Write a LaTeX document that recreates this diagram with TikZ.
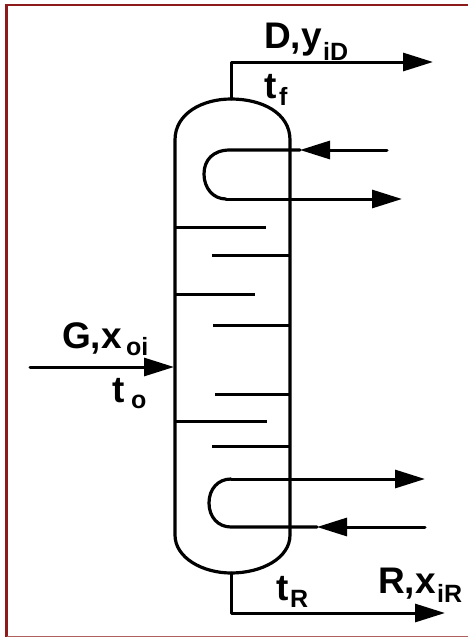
\documentclass[tikz,border=0pt]{standalone}
\usepackage{fontspec}
\setmainfont{Liberation Sans}
\usetikzlibrary{arrows.meta}
\definecolor{frame}{HTML}{8E1B1B}
\tikzset{
  x=1pt,y=-1pt,
  pipe/.style={line width=3.2pt,black,line join=round,line cap=round},
  tray/.style={line width=3pt,black},
  flow/.style={line width=3pt,black,line join=round,line cap=round,-{Triangle[length=30pt,width=18pt]}},
  lbl/.style={anchor=base west,inner sep=0pt,font=\bfseries\fontsize{37}{40}\selectfont},
  sub/.style={anchor=base west,inner sep=0pt,font=\bfseries\fontsize{25}{27}\selectfont}
}
\begin{document}
\begin{tikzpicture}
\useasboundingbox (0,0) rectangle (468,637);
\fill[white] (0,0) rectangle (468,637);
\draw[frame,line width=2.6pt] (6.5,637) -- (6.5,5) -- (468,5);
\draw[frame!70,line width=1pt] (6.5,636.5) -- (468,636.5);
% column
\draw[pipe] (175,140) .. controls (175,113) and (203,99) .. (231,99) .. controls (262,99) and (290,113) .. (290,140)
  -- (290,535) .. controls (290,558) and (262,573) .. (231,573) .. controls (203,573) and (175,558) .. (175,535) -- cycle;
\coordinate (colTop) at (231,99);
\coordinate (colBot) at (231,573);
% overhead and bottoms
\coordinate (dCorner) at (231,62);
\coordinate (dEnd) at (433,62);
\draw[flow] (colTop) -- (dCorner) -- (dEnd);
\coordinate (rCorner) at (231,613);
\coordinate (rEnd) at (445,613);
\draw[flow] (colBot) -- (rCorner) -- (rEnd);
% upper coil
\coordinate (uIn) at (387,150);
\coordinate (uTip) at (300,150);
\coordinate (uB) at (230,150);
\coordinate (uC) at (226,199);
\coordinate (uOut) at (402,199);
\draw[flow] (uIn) -- (uTip);
\draw[pipe] (uTip) -- (uB) .. controls (213,150) and (204,160) .. (204,174) .. controls (204,188) and (213,199) .. (uC);
\draw[flow] (uC) -- (uOut);
% lower coil
\coordinate (lB) at (231,479);
\coordinate (lOut) at (425,479);
\coordinate (lIn) at (425,527);
\coordinate (lTip) at (317,527);
\coordinate (lC) at (231,527);
\draw[flow] (lB) -- (lOut);
\draw[flow] (lIn) -- (lTip);
\draw[pipe] (lTip) -- (lC) .. controls (218,527) and (209,517) .. (209,503) .. controls (209,489) and (218,479) .. (lB);
% trays
\foreach \y/\e in {227/266,294/255,421/267}
  \draw[tray] (175,\y) -- (\e,\y);
\foreach \y/\s in {255/212,325/213,394/215,446/212}
  \draw[tray] (\s,\y) -- (290,\y);
% feed
\coordinate (fIn) at (30,367);
\coordinate (fTip) at (174,367);
\draw[flow] (fIn) -- (fTip);
% labels
\node[lbl] (d) at (264,48) {D,y};
\node[sub] (ds) at (323,60) {iD};
\node[lbl] (tf) at (264,98) {t};
\node[sub] (tfs) at (279,105) {f};
\node[lbl] (tr) at (276,600) {t};
\node[sub] (trs) at (290,607) {R};
\node[lbl] (r) at (378,593) {R,x};
\node[sub] (rs) at (437,602) {iR};
\node[lbl] (g) at (62,348) {G,x};
\node[sub] (gs) at (126,355) {oi};
\node[lbl] (t0) at (112,402) {t};
\node[sub] (t0s) at (131,408) {o};
\end{tikzpicture}
\end{document}
